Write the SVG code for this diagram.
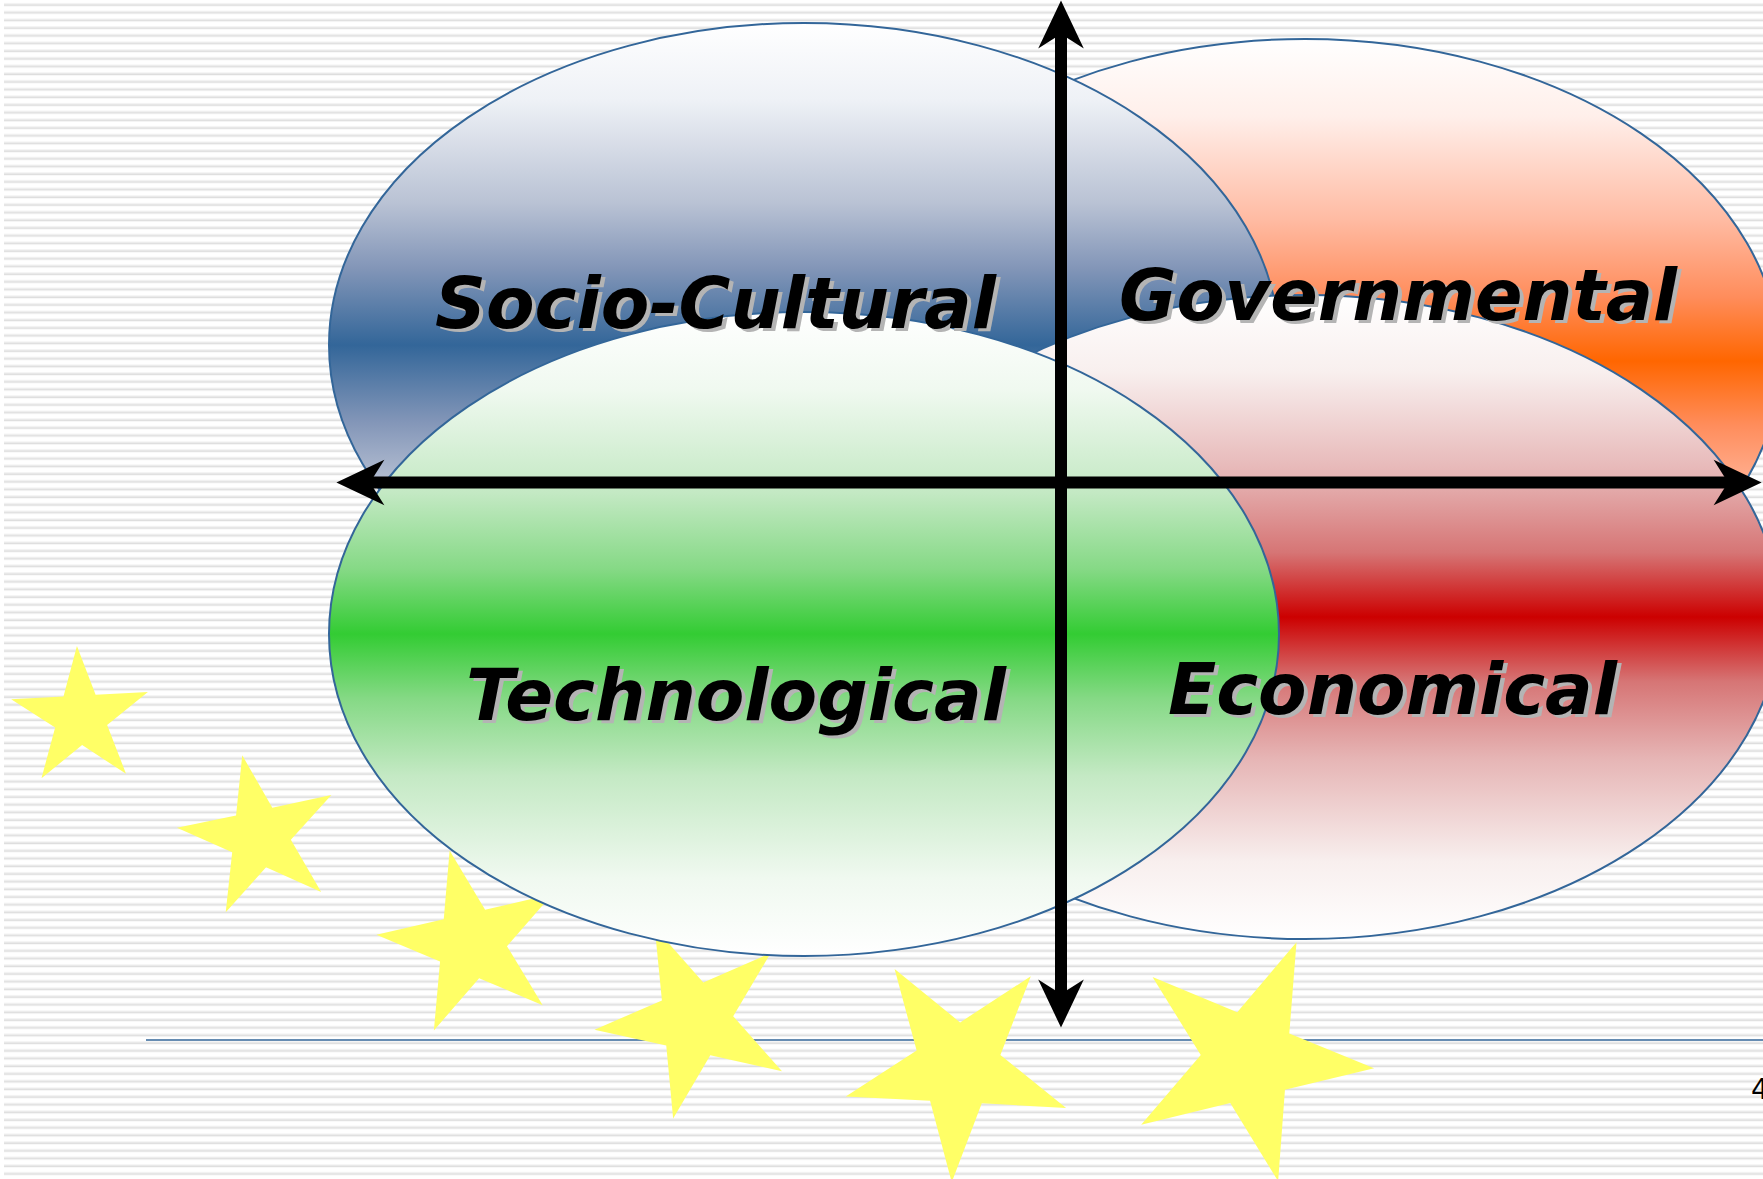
<svg xmlns="http://www.w3.org/2000/svg" xmlns:xlink="http://www.w3.org/1999/xlink" width="1763" height="1179" viewBox="0 0 1763 1179">
<style>
.ell{stroke:#336699;stroke-width:2}
.lbl{font-family:"DejaVu Sans","Verdana",sans-serif;font-weight:bold;font-style:italic;font-size:72px}
.sh{fill:#b4b4b4}
.fg{fill:#000000}
.star{fill:#ffff66}
.axis{stroke:#000;stroke-width:12;fill:none}
</style>
<defs>
<pattern id="stripes" x="0" y="0" width="20" height="7.69" patternUnits="userSpaceOnUse">
<rect x="0" y="3.4" width="20" height="1.3" fill="#e9e9e9"/>
<rect x="0" y="4.7" width="20" height="1.3" fill="#dedede"/>
</pattern>
<linearGradient id="gBlue" x1="0" y1="0" x2="0" y2="1">
<stop offset="0" stop-color="#ffffff"/>
<stop offset="0.12" stop-color="#eef1f6"/>
<stop offset="0.28" stop-color="#b9c2d4"/>
<stop offset="0.38" stop-color="#8396b8"/>
<stop offset="0.5" stop-color="#336699"/>
<stop offset="0.62" stop-color="#8396b8"/>
<stop offset="0.72" stop-color="#b9c2d4"/>
<stop offset="0.88" stop-color="#eef1f6"/>
<stop offset="1" stop-color="#ffffff"/>
</linearGradient>
<linearGradient id="gOrange" x1="0" y1="0" x2="0" y2="1">
<stop offset="0" stop-color="#ffffff"/>
<stop offset="0.12" stop-color="#ffefea"/>
<stop offset="0.28" stop-color="#ffbba3"/>
<stop offset="0.4" stop-color="#ff8d5c"/>
<stop offset="0.5" stop-color="#ff6600"/>
<stop offset="0.6" stop-color="#ff8d5c"/>
<stop offset="0.72" stop-color="#ffbba3"/>
<stop offset="0.88" stop-color="#ffefea"/>
<stop offset="1" stop-color="#ffffff"/>
</linearGradient>
<linearGradient id="gRed" x1="0" y1="0" x2="0" y2="1">
<stop offset="0" stop-color="#ffffff"/>
<stop offset="0.12" stop-color="#f8efee"/>
<stop offset="0.28" stop-color="#e6b5b5"/>
<stop offset="0.4" stop-color="#d67575"/>
<stop offset="0.5" stop-color="#cc0000"/>
<stop offset="0.6" stop-color="#d67575"/>
<stop offset="0.72" stop-color="#e6b5b5"/>
<stop offset="0.88" stop-color="#f8efee"/>
<stop offset="1" stop-color="#ffffff"/>
</linearGradient>
<linearGradient id="gGreen" x1="0" y1="0" x2="0" y2="1">
<stop offset="0" stop-color="#ffffff"/>
<stop offset="0.12" stop-color="#f0f9f0"/>
<stop offset="0.28" stop-color="#c4e9c4"/>
<stop offset="0.4" stop-color="#85d985"/>
<stop offset="0.5" stop-color="#33cc33"/>
<stop offset="0.6" stop-color="#85d985"/>
<stop offset="0.72" stop-color="#c4e9c4"/>
<stop offset="0.88" stop-color="#f0f9f0"/>
<stop offset="1" stop-color="#ffffff"/>
</linearGradient>
<polygon id="star" points="0,-100 22.34,-30.74 95.11,-30.9 36.14,11.74 58.78,80.9 0,38 -58.78,80.9 -36.14,11.74 -95.11,-30.9 -22.34,-30.74"/>
<marker id="arrow" markerUnits="userSpaceOnUse" markerWidth="60" markerHeight="60" viewBox="-15 -25 50 50" refX="0" refY="0" orient="auto-start-reverse">
<path d="M28,0 L-12,-19 L0,0 L-12,19 Z" fill="#000"/>
</marker>
</defs>
<rect x="0" y="0" width="1763" height="1179" fill="#ffffff"/>
<rect x="4" y="0" width="1759" height="1179" fill="url(#stripes)"/>
<line x1="146" y1="1040" x2="1763" y2="1040" stroke="#336699" stroke-width="1.5"/>
<g id="stars">
<use xlink:href="#star" href="#star" class="star" transform="translate(80.7,717.8) rotate(-3) scale(0.72)"/>
<use xlink:href="#star" href="#star" class="star" transform="translate(259.5,836.5) rotate(-12) scale(0.83)"/>
<use xlink:href="#star" href="#star" class="star" transform="translate(471,943) rotate(-13) scale(0.95)"/>
<use xlink:href="#star" href="#star" class="star" transform="translate(695,1020) rotate(-23.5) scale(1.01)"/>
<use xlink:href="#star" href="#star" class="star" transform="translate(957.8,1066.4) rotate(39) scale(1.16)"/>
<use xlink:href="#star" href="#star" class="star" transform="translate(1248.5,1058.7) rotate(22.4) scale(1.26)"/>
</g>
<text x="1751" y="1099" font-family="DejaVu Sans, Verdana, sans-serif" font-size="28" fill="#000">4</text>
<g id="governmental">
<ellipse class="ell" cx="1305" cy="361" rx="475" ry="322" fill="url(#gOrange)"/>
</g>
<g id="socio-cultural">
<ellipse class="ell" cx="804" cy="345" rx="475" ry="322" fill="url(#gBlue)"/>
</g>
<g id="economical">
<ellipse class="ell" cx="1305" cy="617" rx="475" ry="322" fill="url(#gRed)"/>
</g>
<g id="technological">
<ellipse class="ell" cx="804" cy="634" rx="475" ry="322" fill="url(#gGreen)"/>
</g>
<g id="labels">
<g id="socio-cultural-label">
<text class="lbl sh" x="439" y="331" textLength="561" lengthAdjust="spacingAndGlyphs">Socio-Cultural</text>
<text class="lbl fg" x="435" y="328" textLength="561" lengthAdjust="spacingAndGlyphs">Socio-Cultural</text>
</g>
<g id="governmental-label">
<text class="lbl sh" x="1123" y="323" textLength="558" lengthAdjust="spacingAndGlyphs">Governmental</text>
<text class="lbl fg" x="1119" y="320" textLength="558" lengthAdjust="spacingAndGlyphs">Governmental</text>
</g>
<g id="technological-label">
<text class="lbl sh" x="470" y="723" textLength="540" lengthAdjust="spacingAndGlyphs">Technological</text>
<text class="lbl fg" x="466" y="720" textLength="540" lengthAdjust="spacingAndGlyphs">Technological</text>
</g>
<g id="economical-label">
<text class="lbl sh" x="1172" y="717" textLength="449" lengthAdjust="spacingAndGlyphs">Economical</text>
<text class="lbl fg" x="1168" y="714" textLength="449" lengthAdjust="spacingAndGlyphs">Economical</text>
</g>
</g>
<g id="connectors">
<line class="axis" x1="1061" y1="34" x2="1061" y2="994" marker-start="url(#arrow)" marker-end="url(#arrow)"/>
<line class="axis" x1="370" y1="482.5" x2="1728" y2="482.5" marker-start="url(#arrow)" marker-end="url(#arrow)"/>
</g>
</svg>
